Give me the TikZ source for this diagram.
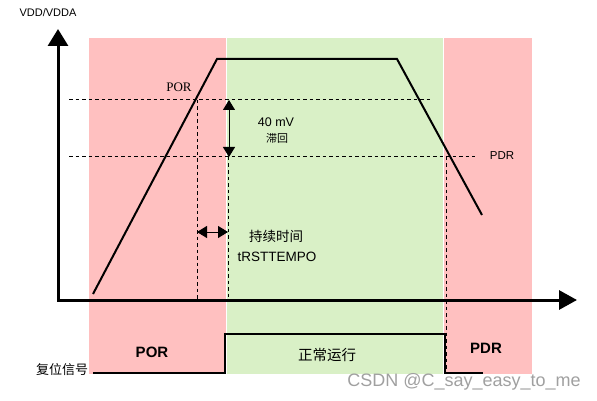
\documentclass[tikz,border=0pt]{standalone}
\usepackage{fontspec}
\setmainfont{Liberation Sans}
\newfontfamily\serifr{Liberation Serif}
\newfontfamily\cjk{Noto Sans CJK SC}
\usetikzlibrary{arrows.meta}
\definecolor{porpink}{RGB}{255,192,192}
\definecolor{rungreen}{RGB}{217,240,198}
\definecolor{wmgray}{RGB}{160,160,160}
\tikzset{
  axisline/.style={line width=3pt, line join=miter,
    {Triangle[length=17pt,width=20pt]}-{Triangle[length=18pt,width=19pt]}},
  vcurve/.style={line width=2pt, line join=miter},
  guide/.style={line width=1pt, dash pattern=on 3.5pt off 3pt},
  sig/.style={line width=2.5pt, line join=miter},
  dimarrow/.style={line width=1pt, {Triangle[length=10pt,width=12pt]}-{Triangle[length=10pt,width=12pt]}},
  lbl/.style={inner sep=0pt, anchor=center},
}
\begin{document}
\begin{tikzpicture}[x=1pt,y=-1pt]
\useasboundingbox (0,0) rectangle (597,401);
% zones
\fill[porpink] (89,38) rectangle (226,374);
\fill[rungreen] (227,38) rectangle (443,374);
\fill[porpink] (444,38) rectangle (532,374);
% coordinates
\coordinate (ytop) at (58,29);
\coordinate (O) at (58,300);
\coordinate (xend) at (577,300);
\coordinate (c0) at (93,294);
\coordinate (c1) at (217,59);
\coordinate (c2) at (397,59);
\coordinate (c3) at (482,215);
\coordinate (porL) at (69,100);
\coordinate (porR) at (432,100);
\coordinate (pdrL) at (69,157);
\coordinate (pdrR) at (475,157);
\coordinate (v1t) at (197,100);
\coordinate (v1b) at (197,300);
\coordinate (v2t) at (228,157);
\coordinate (v2b) at (228,300);
\coordinate (v3t) at (446,157);
\coordinate (v3b) at (446,374);
\coordinate (s0) at (93,373);
\coordinate (s1) at (225,373);
\coordinate (s2) at (225,334);
\coordinate (s3) at (445,334);
\coordinate (s4) at (445,373);
\coordinate (s5) at (483,373);
\coordinate (hA) at (229,100);
\coordinate (hB) at (229,157);
\coordinate (tA) at (197,232);
\coordinate (tB) at (228,232);
% guides
\draw[guide] (porL) -- (porR);
\draw[guide] (pdrL) -- (pdrR);
\draw[guide] (v1t) -- (v1b);
\draw[guide] (v2t) -- (v2b);
\draw[guide] (v3t) -- (v3b);
% axes
\draw[axisline] (ytop) -- (O) -- (xend);
% supply curve
\draw[vcurve] (c0) -- (c1) -- (c2) -- (c3);
% reset signal
\draw[sig] (s0) -- (s1) -- (s2) -- (s3) -- (s4) -- (s5);
% dimension arrows
\draw[dimarrow] (hA) -- (hB);
\draw[dimarrow] (tA) -- (tB);
% labels
\node[lbl] (vdd) at (48,13) {\fontsize{11}{13}\selectfont VDD/VDDA};
\node[lbl] (por) at (179,87) {\fontsize{13}{15}\selectfont\serifr POR};
\node[lbl] (mv) at (276,122) {\fontsize{12.5}{14}\selectfont 40 mV};
\node[lbl] (hys) at (277,138) {\fontsize{11}{13}\selectfont\cjk 滞回};
\node[lbl] (pdr) at (502,156) {\fontsize{11.5}{13}\selectfont PDR};
\node[lbl] (dur) at (276,236) {\fontsize{13.5}{15}\selectfont\cjk 持续时间};
\node[lbl] (trst) at (277,257) {\fontsize{13.5}{15}\selectfont tRSTTEMPO};
\node[lbl] (porb) at (152,352) {\fontsize{15}{17}\selectfont\bfseries POR};
\node[lbl] (run) at (327,355) {\fontsize{14.5}{16}\selectfont\cjk 正常运行};
\node[lbl] (pdrb) at (486,348) {\fontsize{15}{17}\selectfont\bfseries PDR};
\node[lbl] (rst) at (62,370) {\fontsize{13}{15}\selectfont\cjk 复位信号};
\node[lbl, text=wmgray] (wm) at (464,382) {\fontsize{18}{20}\selectfont CSDN @C\_say\_easy\_to\_me};
\end{tikzpicture}
\end{document}
